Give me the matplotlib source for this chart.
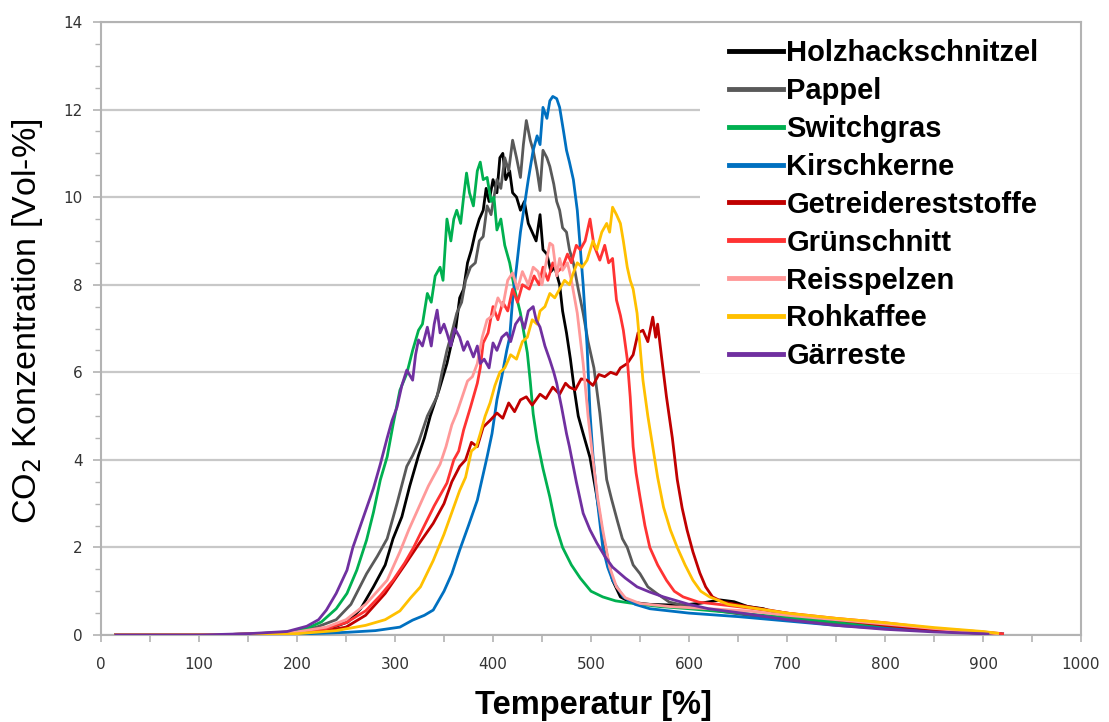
import matplotlib
matplotlib.use("Agg")
import matplotlib.pyplot as plt
from matplotlib.patches import Rectangle
from matplotlib.ticker import MultipleLocator

# Messreihen: (Temperatur, CO2 Konzentration in Vol-%)
holzhackschnitzel = [
    (15, 0), (100, 0), (150, 0.02), (200, 0.06), (220, 0.12), (240, 0.2), (252, 0.3), (265, 0.6),
    (278, 1.1), (290, 1.6), (298, 2.2), (307, 2.7), (315, 3.4), (324, 4.1), (330, 4.5), (336, 5.0),
    (345, 5.6), (353, 6.2), (357, 6.6), (362, 7.0), (366, 7.7), (370, 7.9), (374, 8.5), (378, 8.8),
    (382, 9.2), (386, 9.5), (390, 9.7), (393, 10.2), (396, 9.9), (400, 10.4), (404, 10.1), (407, 10.9),
    (410, 11.0), (413, 10.4), (417, 10.6), (420, 10.1), (424, 10.0), (428, 9.7), (432, 9.9), (436, 9.4),
    (440, 9.2), (444, 9.0), (448, 9.6), (451, 8.8), (455, 8.7), (459, 8.3), (463, 8.4), (468, 8.0),
    (471, 7.4), (475, 6.9), (479, 6.3), (483, 5.6), (487, 5.0), (492, 4.6), (499, 4.05), (506, 3.15),
    (512, 2.3), (517, 1.75), (522, 1.25), (530, 0.87), (540, 0.75), (560, 0.7), (590, 0.68), (610, 0.72),
    (632, 0.8), (646, 0.76), (660, 0.65), (676, 0.6), (694, 0.46), (720, 0.38), (748, 0.3), (785, 0.23),
    (820, 0.15), (858, 0.08), (890, 0.05), (918, 0.03),
]
pappel = [
    (15, 0), (100, 0), (150, 0.02), (200, 0.08), (220, 0.18), (240, 0.35), (255, 0.7), (271, 1.4),
    (282, 1.8), (292, 2.2), (302, 3.0), (312, 3.85), (318, 4.1), (324, 4.4), (333, 5.0), (343, 5.45),
    (348, 6.0), (353, 6.5), (358, 6.9), (363, 7.35), (368, 7.6), (372, 8.1), (377, 8.4), (382, 8.5),
    (386, 9.0), (390, 9.1), (394, 9.8), (398, 9.6), (404, 10.4), (408, 10.2), (412, 10.9), (416, 10.6),
    (420, 11.3), (424, 10.9), (428, 10.45), (431, 11.2), (434, 11.75), (438, 11.3), (441, 11.07),
    (445, 10.6), (448, 10.15), (451, 11.07), (455, 10.9), (458, 10.7), (462, 10.3), (465, 9.9),
    (468, 9.7), (471, 9.3), (475, 9.2), (478, 8.8), (482, 8.5), (487, 7.9), (492, 7.35), (497, 6.7),
    (503, 6.1), (509, 5.07), (516, 3.55), (521, 3.1), (527, 2.6), (532, 2.2), (537, 2.0), (543, 1.6),
    (550, 1.4), (558, 1.1), (567, 0.95), (580, 0.75), (600, 0.65), (630, 0.55), (660, 0.45),
    (700, 0.35), (750, 0.25), (800, 0.17), (850, 0.1), (900, 0.05), (915, 0.03),
]
switchgras = [
    (15, 0), (100, 0), (150, 0.02), (190, 0.06), (210, 0.15), (225, 0.3), (240, 0.6), (251, 0.95),
    (261, 1.48), (271, 2.17), (278, 2.8), (285, 3.54), (292, 4.07), (298, 4.8), (305, 5.59), (312, 5.97),
    (318, 6.5), (324, 6.96), (328, 7.1), (333, 7.8), (337, 7.6), (341, 8.2), (346, 8.4), (349, 8.1),
    (353, 9.5), (357, 9.0), (360, 9.5), (363, 9.7), (367, 9.4), (370, 10.0), (373, 10.55), (376, 10.1),
    (380, 9.8), (384, 10.6), (387, 10.8), (390, 10.4), (394, 10.45), (398, 9.9), (401, 10.0),
    (404, 9.25), (408, 9.5), (412, 8.9), (417, 8.5), (422, 7.9), (428, 7.35), (435, 6.45), (438, 5.8),
    (441, 5.05), (445, 4.45), (451, 3.8), (458, 3.15), (464, 2.5), (471, 2.0), (480, 1.6), (489, 1.3),
    (500, 1.0), (512, 0.87), (525, 0.78), (540, 0.73), (570, 0.65), (600, 0.6), (650, 0.5), (700, 0.4),
    (750, 0.3), (800, 0.2), (850, 0.12), (900, 0.05), (912, 0.03),
]
kirschkerne = [
    (15, 0), (100, 0), (150, 0), (200, 0.02), (250, 0.06), (280, 0.1), (305, 0.18), (318, 0.34),
    (330, 0.45), (339, 0.57), (350, 1.0), (358, 1.4), (366, 1.94), (375, 2.5), (384, 3.08), (394, 4.07),
    (399, 4.6), (404, 5.37), (409, 5.9), (414, 6.5), (417, 6.8), (420, 7.65), (424, 8.4), (428, 9.2),
    (432, 9.8), (436, 10.4), (441, 11.07), (445, 11.4), (448, 11.2), (451, 12.05), (455, 11.8),
    (458, 12.2), (461, 12.3), (465, 12.25), (468, 12.05), (472, 11.5), (475, 11.07), (478, 10.8),
    (482, 10.4), (486, 9.7), (489, 8.85), (492, 8.0), (496, 6.6), (499, 5.07), (502, 4.1), (506, 3.15),
    (512, 2.0), (517, 1.55), (522, 1.25), (533, 0.87), (545, 0.7), (560, 0.6), (600, 0.5), (650, 0.42),
    (700, 0.32), (750, 0.22), (800, 0.15), (850, 0.1), (900, 0.05), (920, 0.03),
]
getreidereststoffe = [
    (15, 0), (100, 0), (150, 0.02), (200, 0.05), (230, 0.1), (250, 0.18), (270, 0.45), (290, 0.95),
    (310, 1.6), (325, 2.1), (339, 2.55), (350, 3.0), (358, 3.5), (366, 3.85), (372, 4.0), (378, 4.4),
    (384, 4.3), (390, 4.75), (397, 4.9), (404, 5.07), (410, 4.95), (416, 5.3), (422, 5.1), (428, 5.37),
    (434, 5.44), (440, 5.25), (448, 5.5), (454, 5.4), (461, 5.66), (468, 5.5), (474, 5.75), (478, 5.66),
    (484, 5.6), (490, 5.85), (496, 5.82), (502, 5.7), (508, 5.95), (514, 5.9), (520, 6.0), (526, 5.95),
    (530, 6.1), (537, 6.2), (543, 6.4), (548, 6.9), (553, 6.96), (558, 6.7), (563, 7.26), (566, 6.8),
    (568, 7.1), (572, 6.35), (577, 5.44), (583, 4.5), (588, 3.55), (593, 2.9), (598, 2.4), (604, 1.9),
    (611, 1.42), (617, 1.1), (624, 0.87), (635, 0.75), (660, 0.65), (700, 0.5), (750, 0.35),
    (800, 0.22), (850, 0.12), (900, 0.06), (915, 0.03),
]
gruenschnitt = [
    (15, 0), (100, 0), (150, 0.02), (200, 0.06), (230, 0.15), (250, 0.28), (270, 0.55), (285, 0.9),
    (298, 1.25), (310, 1.65), (319, 2.0), (330, 2.5), (340, 2.95), (353, 3.47), (360, 4.0), (365, 4.2),
    (370, 4.68), (377, 5.2), (384, 5.75), (387, 6.1), (390, 6.67), (395, 6.9), (400, 7.5), (405, 7.2),
    (410, 7.6), (415, 7.4), (420, 7.9), (425, 7.6), (430, 8.0), (437, 7.9), (442, 8.2), (447, 8.0),
    (451, 8.4), (456, 8.1), (461, 8.5), (466, 8.3), (471, 8.4), (476, 8.7), (480, 8.5), (485, 8.9),
    (489, 8.8), (494, 9.0), (499, 9.5), (503, 8.9), (509, 8.56), (514, 8.9), (518, 8.5), (522, 8.6),
    (526, 7.65), (530, 7.3), (533, 6.96), (537, 6.3), (540, 5.44), (543, 4.3), (546, 3.7), (550, 3.15),
    (555, 2.5), (560, 2.0), (568, 1.6), (577, 1.25), (585, 1.0), (594, 0.87), (610, 0.75), (630, 0.7),
    (660, 0.62), (700, 0.5), (750, 0.38), (800, 0.28), (850, 0.15), (900, 0.07), (920, 0.03),
]
reisspelzen = [
    (15, 0), (100, 0), (150, 0.02), (200, 0.07), (230, 0.18), (250, 0.35), (270, 0.7), (282, 1.0),
    (292, 1.25), (305, 1.9), (314, 2.4), (322, 2.8), (334, 3.4), (346, 3.9), (352, 4.3), (358, 4.8),
    (363, 5.07), (368, 5.4), (374, 5.8), (379, 5.9), (384, 6.2), (389, 6.8), (394, 7.2), (400, 7.3),
    (405, 7.7), (410, 7.5), (415, 8.1), (420, 8.27), (425, 7.9), (430, 8.3), (436, 8.0), (441, 8.4),
    (446, 8.3), (450, 8.0), (455, 8.6), (458, 8.95), (461, 8.9), (465, 8.2), (468, 8.6), (471, 8.33),
    (476, 8.5), (480, 8.1), (486, 7.35), (492, 6.2), (497, 5.0), (502, 4.0), (507, 3.1), (512, 2.4),
    (519, 1.55), (526, 1.1), (535, 0.85), (550, 0.72), (580, 0.65), (620, 0.6), (660, 0.55),
    (700, 0.45), (750, 0.35), (800, 0.25), (850, 0.15), (900, 0.06), (915, 0.03),
]
rohkaffee = [
    (15, 0), (100, 0), (150, 0.01), (200, 0.03), (240, 0.1), (270, 0.22), (290, 0.35), (305, 0.55),
    (316, 0.85), (326, 1.1), (339, 1.7), (350, 2.3), (358, 2.8), (366, 3.3), (372, 3.6), (378, 4.2),
    (383, 4.3), (387, 4.6), (392, 5.0), (397, 5.3), (402, 5.7), (407, 6.0), (412, 6.1), (418, 6.4),
    (424, 6.3), (430, 6.7), (435, 6.8), (440, 7.2), (445, 7.1), (448, 7.4), (453, 7.5), (458, 7.8),
    (463, 7.7), (468, 7.9), (473, 8.1), (478, 8.0), (482, 8.27), (486, 8.5), (491, 8.4), (496, 8.56),
    (502, 9.0), (506, 8.8), (511, 9.2), (516, 9.4), (519, 9.2), (522, 9.77), (526, 9.6), (530, 9.4),
    (533, 9.0), (537, 8.4), (540, 8.1), (543, 7.9), (547, 7.35), (550, 6.6), (553, 5.82), (558, 5.0),
    (563, 4.3), (568, 3.6), (574, 2.92), (581, 2.4), (588, 2.0), (596, 1.6), (604, 1.25), (612, 1.0),
    (621, 0.87), (640, 0.7), (670, 0.6), (700, 0.5), (750, 0.38), (800, 0.28), (850, 0.17),
    (900, 0.08), (915, 0.04),
]
gaerreste = [
    (15, 0), (100, 0), (150, 0.03), (190, 0.08), (210, 0.2), (222, 0.35), (230, 0.57), (240, 0.95),
    (251, 1.48), (257, 2.0), (264, 2.45), (271, 2.9), (278, 3.35), (285, 3.9), (292, 4.5), (297, 4.9),
    (302, 5.2), (307, 5.7), (312, 6.05), (318, 5.82), (321, 6.4), (324, 6.74), (328, 6.6), (333, 7.03),
    (337, 6.6), (340, 7.1), (343, 7.42), (346, 6.9), (350, 7.1), (353, 6.9), (357, 6.6), (361, 7.0),
    (366, 6.8), (370, 6.5), (374, 6.7), (380, 6.35), (384, 6.6), (387, 6.2), (391, 6.3), (396, 6.1),
    (400, 6.67), (404, 6.5), (409, 6.8), (414, 6.9), (418, 6.7), (423, 7.1), (428, 7.26), (432, 7.0),
    (436, 7.4), (441, 7.5), (444, 7.2), (448, 7.03), (453, 6.6), (458, 6.28), (462, 6.0), (465, 5.75),
    (470, 5.2), (475, 4.6), (478, 4.3), (485, 3.5), (492, 2.78), (499, 2.4), (506, 2.1), (514, 1.8),
    (522, 1.55), (535, 1.3), (547, 1.1), (560, 0.98), (574, 0.87), (600, 0.7), (620, 0.6), (660, 0.48),
    (700, 0.35), (750, 0.22), (800, 0.13), (850, 0.07), (900, 0.03), (905, 0.02),
]

namen = ["Holzhackschnitzel", "Pappel", "Switchgras", "Kirschkerne", "Getreidereststoffe",
         "Grünschnitt", "Reisspelzen", "Rohkaffee", "Gärreste"]
reihen = [holzhackschnitzel, pappel, switchgras, kirschkerne, getreidereststoffe,
          gruenschnitt, reisspelzen, rohkaffee, gaerreste]
farben = ["#000000", "#595959", "#00b050", "#0070c0", "#c00000",
          "#ff3333", "#ff9999", "#ffc000", "#7030a0"]

GRAU = "#b3b3b3"

fig = plt.figure(figsize=(11.09, 7.22), dpi=100)
ax = fig.add_axes([101 / 1109, 1 - 635 / 722, 980 / 1109, 613 / 722])

for name, daten, farbe in zip(namen, reihen, farben):
    xs = [p[0] for p in daten]
    ys = [p[1] for p in daten]
    ax.plot(xs, ys, color=farbe, lw=2.0, label=name, zorder=3, solid_joinstyle="round")

ax.set_xlim(0, 1000)
ax.set_ylim(0, 14)
ax.xaxis.set_major_locator(MultipleLocator(100))
ax.xaxis.set_minor_locator(MultipleLocator(50))
ax.yaxis.set_major_locator(MultipleLocator(2))
ax.yaxis.set_minor_locator(MultipleLocator(0.5))

ax.set_axisbelow(True)
ax.grid(axis="y", which="major", color="#c8c8c8", lw=1.6, zorder=0)
for s in ax.spines.values():
    s.set_color(GRAU)
    s.set_linewidth(1.5)

ax.tick_params(axis="both", which="both", colors=GRAU, labelcolor="#333333", labelsize=11)
ax.tick_params(axis="x", which="both", length=5, width=1.2, pad=11)
ax.tick_params(axis="y", which="major", length=6, width=1.2, pad=7)
ax.tick_params(axis="y", which="minor", length=4, width=1.0)

# weisse Flaeche hinter der Legende
ax.add_patch(Rectangle((0.611, 0.428), 0.389, 0.572, transform=ax.transAxes,
                       facecolor="white", edgecolor="none", zorder=2))

ax.set_xlabel("Temperatur [%]", fontsize=23.5, fontweight="bold", family="Liberation Sans")
ax.xaxis.set_label_coords(0.503, -0.09)
ax.set_ylabel("CO$_2$ Konzentration [Vol-%]", fontsize=24.5, family="Liberation Sans")
ax.yaxis.set_label_coords(-0.057, 0.511)

leg = ax.legend(loc="upper left", bbox_to_anchor=((729 - 101) / 980, (635 - 39) / 613),
                frameon=False, borderpad=0, borderaxespad=0, handlelength=1.85,
                handletextpad=0.12, labelspacing=0.34,
                prop={"family": "Liberation Sans", "weight": "bold", "size": 21})
for line in leg.get_lines():
    line.set_linewidth(3.5)
leg.set_zorder(5)

fig.savefig("out.png", dpi=100)
